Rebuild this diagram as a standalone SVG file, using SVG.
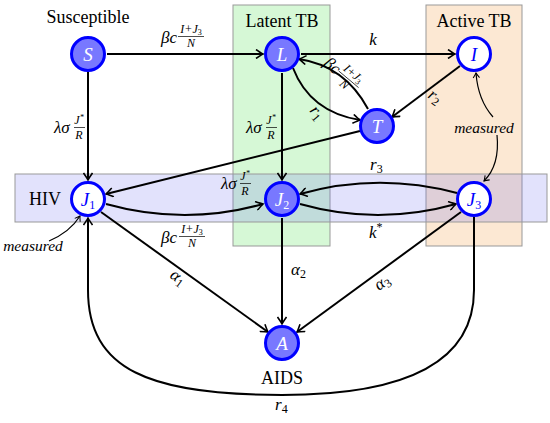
<svg xmlns="http://www.w3.org/2000/svg" width="550" height="423" viewBox="0 0 550 423">
<style>
.box{stroke:#999;stroke-width:1}
.nf{fill:#7878ff;stroke:#0000ff;stroke-width:3}
.nw{fill:#fff;stroke:#0000ff;stroke-width:3}
.e{fill:none;stroke:#000;stroke-width:2;marker-end:url(#ah)}
.m{fill:none;stroke:#000;stroke-width:1.2;marker-end:url(#ahs)}
text{font-family:"Liberation Serif","DejaVu Serif",serif;fill:#000}
.t{font-size:18px}
.nl{font-size:19px;font-style:italic;text-anchor:middle}
.wt{fill:#fff}
.bt{fill:#0000ff}
.lb{font-size:17px;font-style:italic}
.ms{font-size:15.5px;font-style:italic;text-anchor:middle}
.fr{font-size:12px;font-style:italic;text-anchor:middle}
.fl{stroke:#000;stroke-width:0.7}
</style>
<defs>
<marker id="ah" viewBox="-8 -5 10 10" refX="0" refY="0" markerWidth="10" markerHeight="10" markerUnits="userSpaceOnUse" orient="auto">
<path d="M -7 -4.5 Q -2 -1 0 0 Q -2 1 -7 4.5" fill="none" stroke="#000" stroke-width="1.6"/>
</marker>
<marker id="ahs" viewBox="-8 -5 10 10" refX="0" refY="0" markerWidth="8" markerHeight="8" markerUnits="userSpaceOnUse" orient="auto">
<path d="M -6 -4 Q -2 -1 0 0 Q -2 1 -6 4" fill="none" stroke="#000" stroke-width="1.3"/>
</marker>
</defs>
<g id="regions">
<rect class="box" x="233" y="5" width="97" height="241" fill="#33dd33" fill-opacity="0.2"/>
<rect class="box" x="426" y="5" width="96" height="241" fill="#f08a24" fill-opacity="0.2"/>
<rect class="box" x="15" y="174" width="532" height="48" fill="#7070f0" fill-opacity="0.2"/>
<text class="t" x="88" y="23" text-anchor="middle">Susceptible</text>
<text class="t" x="282" y="27" text-anchor="middle">Latent TB</text>
<text class="t" x="474" y="27" text-anchor="middle">Active TB</text>
<text class="t" x="29" y="205">HIV</text>
<text class="t" x="282" y="384" text-anchor="middle">AIDS</text>
</g>
<g id="connectors">
<path class="e" d="M107 54 L263 54"/>
<path class="e" d="M301 54 L455 54"/>
<path class="e" d="M88 72 L88 180"/>
<path class="e" d="M282 73 L282 180"/>
<path class="e" d="M282 218 L282 324"/>
<path class="e" d="M293 68 Q310 112 360 120"/>
<path class="e" d="M368 109 Q345 66 299 59"/>
<path class="e" d="M460 66 L392 117"/>
<path class="e" d="M360 131 L106 194"/>
<path class="e" d="M106 204 Q185 226 263 204"/>
<path class="e" d="M300 204 Q378 226 456 204"/>
<path class="e" d="M457 193 Q378 172 300 194"/>
<path class="e" d="M101 212 L268 332"/>
<path class="e" d="M461 212 L297 332"/>
<path class="e" d="M474 217 L474 290 C474 365 400 395 282 395 C150 395 88 370 88 290 L88 218"/>
<path class="m" d="M49 241 Q70 232 80 216"/>
<path class="m" d="M493 117 Q478 100 476 73"/>
<path class="m" d="M497 135 Q500 165 484 181"/>
</g>
<g id="labels">
<g id="lab-SL"><text class="lb" x="161" y="43">βc</text><text class="fr" x="191" y="33">I+J<tspan font-size="8" font-style="normal" dy="2">3</tspan></text><line class="fl" x1="178" y1="36.5" x2="204" y2="36.5"/><text class="fr" x="191" y="47">N</text></g>
<text class="lb" x="373" y="45" text-anchor="middle">k</text>
<g id="lab-SJ1"><text class="lb" x="54" y="133">λσ</text><text class="fr" x="79" y="124">J<tspan font-size="8" dy="-4">*</tspan></text><line class="fl" x1="74" y1="127.5" x2="85" y2="127.5"/><text class="fr" x="79" y="139">R</text></g>
<g id="lab-LJ2"><text class="lb" x="246" y="133">λσ</text><text class="fr" x="271" y="124">J<tspan font-size="8" dy="-4">*</tspan></text><line class="fl" x1="266" y1="127.5" x2="277" y2="127.5"/><text class="fr" x="271" y="139">R</text></g>
<g id="lab-J"><text class="lb" x="221" y="189">λσ</text><text class="fr" x="245" y="180">J<tspan font-size="8" dy="-4">*</tspan></text><line class="fl" x1="240" y1="183.5" x2="251" y2="183.5"/><text class="fr" x="245" y="195">R</text></g>
<g id="lab-TL" transform="translate(340 74) rotate(40)"><text class="lb" x="-19" y="4">βc</text><text class="fr" x="10" y="-5">I+J<tspan font-size="8" font-style="normal" dy="2">3</tspan></text><line class="fl" x1="-3" y1="-1.5" x2="23" y2="-1.5"/><text class="fr" x="10" y="9">N</text></g>
<text class="lb" x="0" y="0" transform="translate(309 111) rotate(50)">r<tspan font-size="12" font-style="normal" dy="3">1</tspan></text>
<text class="lb" x="0" y="0" transform="translate(427 97) rotate(35)">r<tspan font-size="12" font-style="normal" dy="3">2</tspan></text>
<text class="lb" x="370" y="170">r<tspan font-size="12" font-style="normal" dy="3">3</tspan></text>
<text class="lb" x="275" y="410">r<tspan font-size="12" font-style="normal" dy="3">4</tspan></text>
<g id="lab-J1J2"><text class="lb" x="161" y="243">βc</text><text class="fr" x="192" y="233">I+J<tspan font-size="8" font-style="normal" dy="2">3</tspan></text><line class="fl" x1="179" y1="236.5" x2="205" y2="236.5"/><text class="fr" x="192" y="247">N</text></g>
<text class="lb" x="369" y="238">k<tspan font-size="12" font-style="normal" dy="-7">*</tspan></text>
<text class="lb" x="0" y="0" transform="translate(169 277) rotate(36)">α<tspan font-size="12" font-style="normal" dy="3">1</tspan></text>
<text class="lb" x="291" y="275">α<tspan font-size="12" font-style="normal" dy="3">2</tspan></text>
<text class="lb" x="0" y="0" transform="translate(379 291) rotate(-36)">α<tspan font-size="12" font-style="normal" dy="3">3</tspan></text>
<text class="ms" x="33" y="251">measured</text>
<text class="ms" x="484" y="133">measured</text>
</g>
<g id="S"><circle class="nf" cx="88" cy="54" r="16.5"/><text class="nl wt" x="88" y="61">S</text></g>
<g id="L"><circle class="nf" cx="282" cy="54" r="16.5"/><text class="nl wt" x="282" y="61">L</text></g>
<g id="I"><circle class="nw" cx="474" cy="54" r="16.5"/><text class="nl bt" x="474" y="61">I</text></g>
<g id="T"><circle class="nf" cx="377" cy="126" r="16.5"/><text class="nl wt" x="377" y="133">T</text></g>
<g id="J1"><circle class="nw" cx="88" cy="199" r="16.5"/><text class="nl bt" x="88" y="206">J<tspan font-size="12" font-style="normal" dy="3">1</tspan></text></g>
<g id="J2"><circle class="nf" cx="282" cy="199" r="16.5"/><text class="nl wt" x="282" y="206">J<tspan font-size="12" font-style="normal" dy="3">2</tspan></text></g>
<g id="J3"><circle class="nw" cx="474" cy="199" r="16.5"/><text class="nl bt" x="474" y="206">J<tspan font-size="12" font-style="normal" dy="3">3</tspan></text></g>
<g id="A"><circle class="nf" cx="282" cy="343" r="16.5"/><text class="nl wt" x="282" y="350">A</text></g>
</svg>
